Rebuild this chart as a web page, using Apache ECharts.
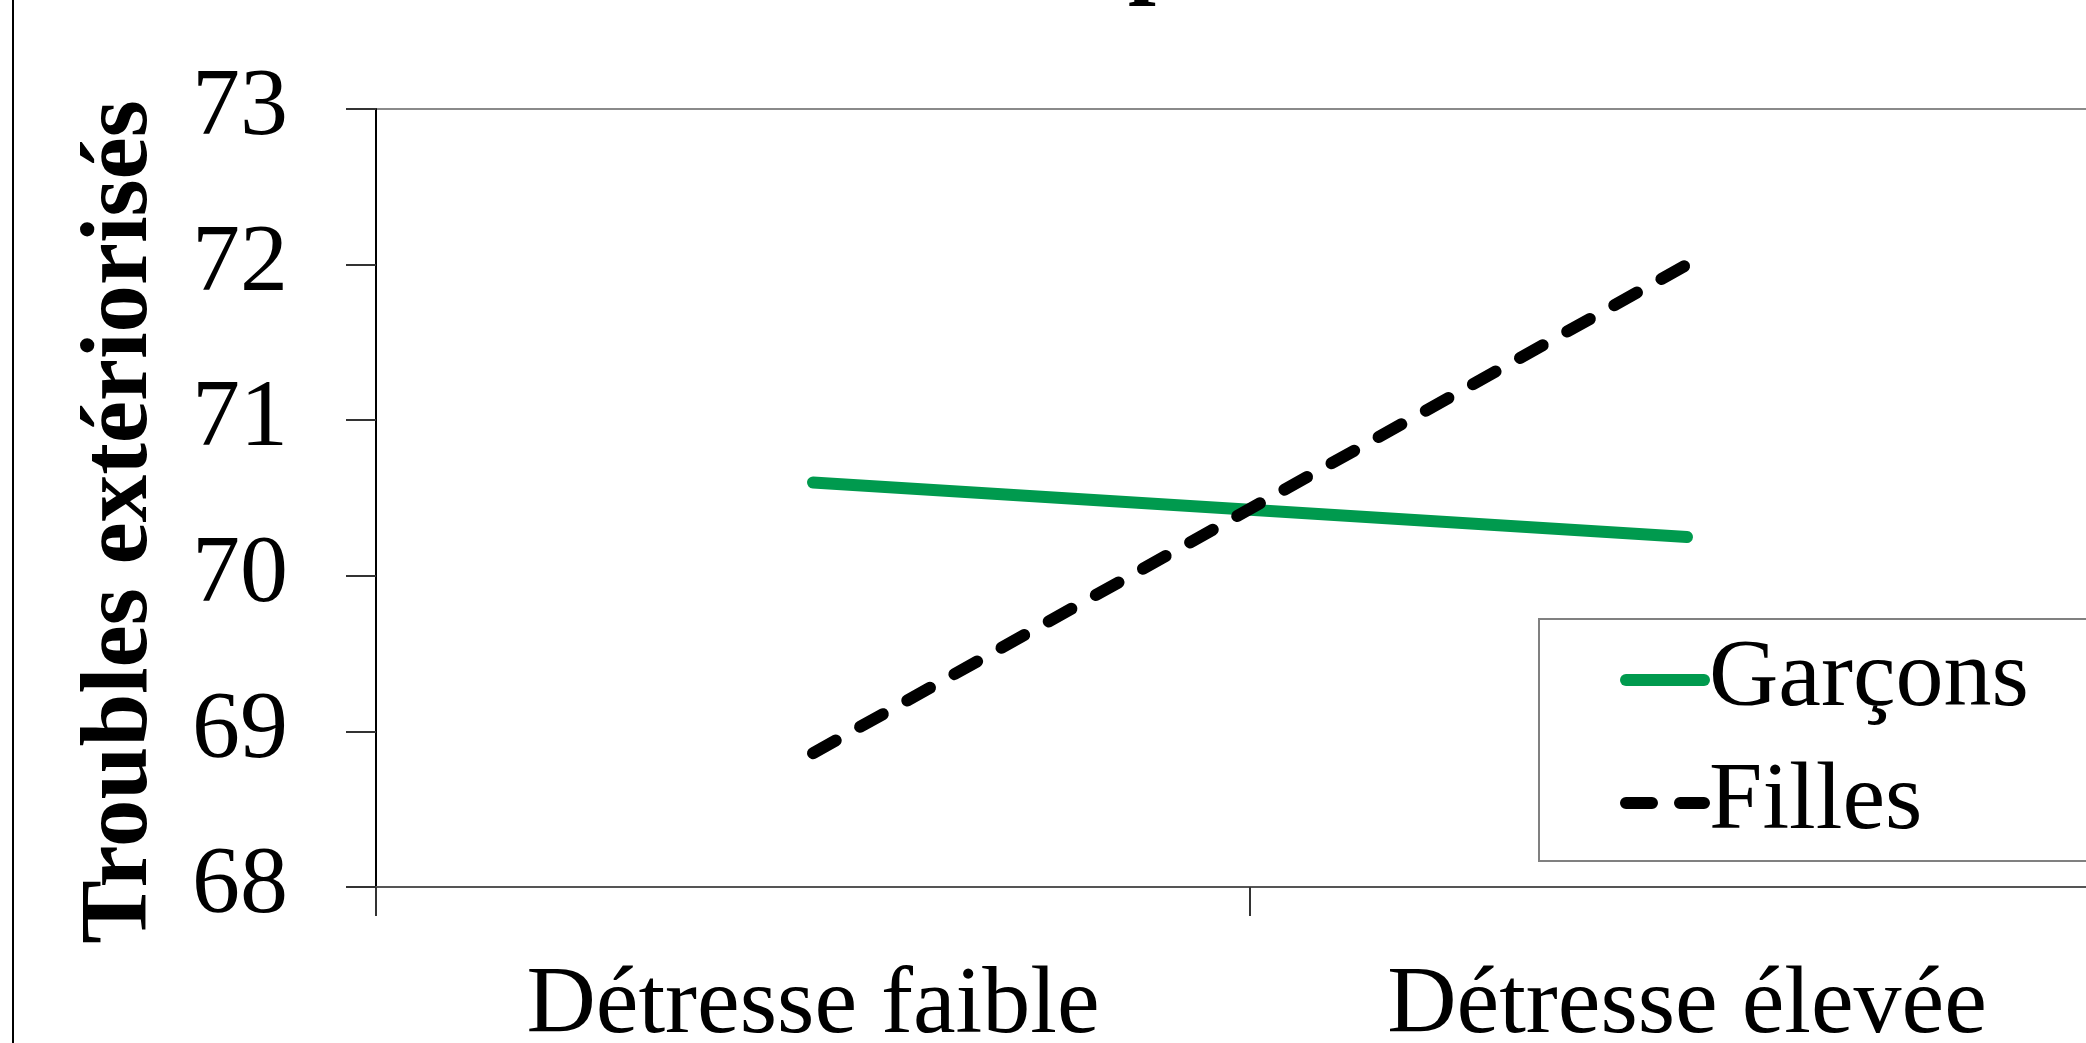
<!DOCTYPE html>
<html>
<head>
<meta charset="utf-8">
<script src="https://cdn.jsdelivr.net/npm/echarts@6/dist/echarts.min.js"></script>
<style>
html,body{margin:0;padding:0;background:#fff;}
#c{width:2086px;height:1043px;}
</style>
</head>
<body>
<div id="c"></div>
<script>
const categories = ['Détresse faible', 'Détresse élevée'];
const garcons = [70.6, 70.25];
const filles = [68.86, 72.0];
const seriesNames = ['Garçons', 'Filles'];
const yTitle = 'Troubles extériorisés';
const yMin = 68, yMax = 73, yStep = 1;

const serif = '"Liberation Serif", "Times New Roman", serif';
const chart = echarts.init(document.getElementById('c'));
chart.setOption({
  animation: false,
  backgroundColor: '#fff',
  grid: {
    left: 376, top: 109, width: 1748, height: 778,
    outerBoundsMode: 'none',
    containLabel: false,
    show: true, borderColor: '#8a8a8a', borderWidth: 2, backgroundColor: 'transparent'
  },
  legend: {
    left: 1539, top: 619,
    orient: 'vertical',
    data: seriesNames,
    itemWidth: 78, itemHeight: 14, itemGap: 23,
    padding: [11, 120, 8, 81],
    backgroundColor: '#fff',
    borderColor: '#808080', borderWidth: 2,
    itemStyle: { color: 'transparent', borderWidth: 0 },
    lineStyle: { width: 12, cap: 'round' },
    textStyle: { fontFamily: serif, fontSize: 96, color: '#000', lineHeight: 100 }
  },
  graphic: [
    { type: 'line', shape: { x1: 13, y1: 0, x2: 13, y2: 1043 }, style: { stroke: '#000', lineWidth: 2 } },
    { type: 'text', x: 1128, y: -91, style: { text: 'p', font: 'bold 100px ' + serif, fill: '#000', verticalAlign: 'top' } }
  ],
  xAxis: {
    type: 'category',
    data: categories,
    boundaryGap: true,
    axisLine: { lineStyle: { color: '#555', width: 2 } },
    axisTick: { show: true, length: 29, lineStyle: { color: '#333', width: 2 } },
    axisLabel: { fontFamily: serif, fontSize: 96, color: '#000', margin: 72 },
    splitLine: { show: false }
  },
  yAxis: {
    type: 'value',
    min: yMin, max: yMax, interval: yStep,
    name: yTitle,
    nameLocation: 'middle',
    nameGap: 207,
    nameTextStyle: { fontFamily: serif, fontSize: 95, fontWeight: 'bold', color: '#000', padding: [0, 48, 0, 0] },
    axisLine: { show: true, lineStyle: { color: '#000', width: 2 } },
    axisTick: { show: true, length: 30, lineStyle: { color: '#333', width: 2 } },
    axisLabel: { fontFamily: serif, fontSize: 96, color: '#000', margin: 88 },
    splitLine: { show: false }
  },
  series: [
    {
      name: seriesNames[0], type: 'line', data: garcons,
      symbol: 'none',
      lineStyle: { color: '#009a4e', width: 12, cap: 'round' },
      itemStyle: { color: '#009a4e' }
    },
    {
      name: seriesNames[1], type: 'line', data: filles,
      symbol: 'none',
      lineStyle: { color: '#000', width: 12, type: [26, 28], cap: 'round' },
      itemStyle: { color: '#000' }
    }
  ]
});
</script>
</body>
</html>
